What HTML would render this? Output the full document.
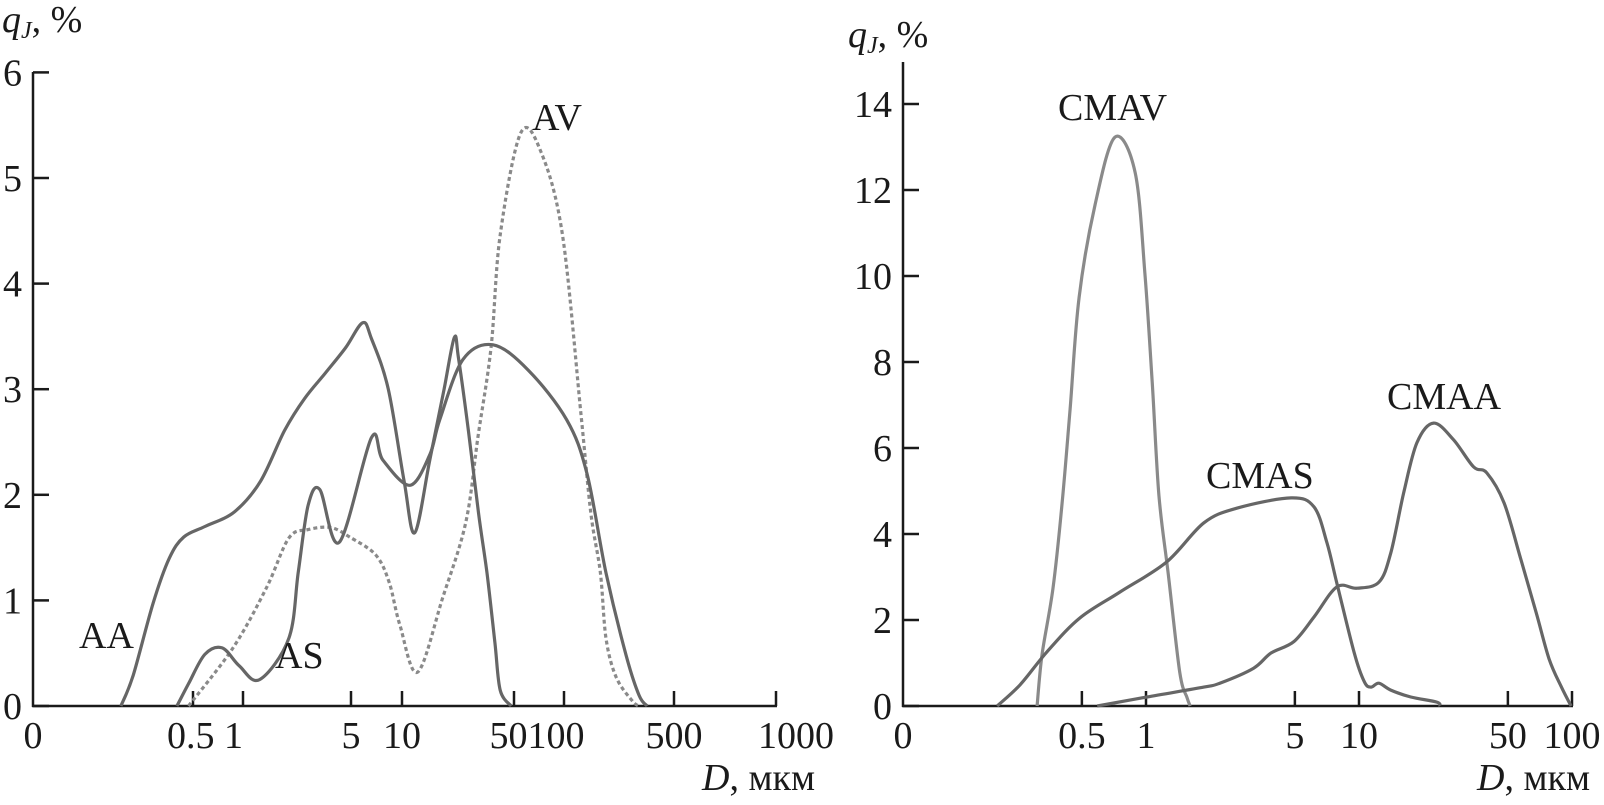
<!DOCTYPE html>
<html><head><meta charset="utf-8"><style>
html,body{margin:0;padding:0;background:#fff;}
svg{display:block;font-family:"Liberation Serif",serif;}
</style></head><body>
<svg id="fig" width="1604" height="805" viewBox="0 0 1604 805" xmlns="http://www.w3.org/2000/svg"></svg>
<script>
// ---------- LEFT CHART DATA ----------
const leftTicks = [0.5, 1, 5, 10, 50, 100, 500, 1000];
const leftTickLabels = ["0.5 1", "", "5", "10", "50100", "", "500", "1000"];
const leftYTicks = [0, 1, 2, 3, 4, 5, 6];
const aaD = [0.184,0.218,0.287,0.36,0.44,0.59,0.89,1.3,1.86,2.5,3.4,4.6,5.86,6.6,8.3,10.3,12.0,14.9,18.3,21.2,22.5,26,30,33.9,38,41,48];
const aaQ = [0,0.29,0.97,1.40,1.6,1.7,1.84,2.13,2.61,2.91,3.15,3.39,3.63,3.48,3.0,2.13,1.64,2.33,3.0,3.49,3.3,2.6,1.83,1.26,0.6,0.15,0];
const asD = [0.40,0.47,0.59,0.75,0.95,1.28,1.98,2.28,2.64,3.14,4.2,6.6,7.7,11.2,14.9,17.2,24,37,61,104,140,185,248,300,338];
const asQ = [0,0.21,0.49,0.55,0.38,0.25,0.64,1.27,1.9,2.05,1.55,2.54,2.33,2.09,2.38,2.71,3.28,3.42,3.18,2.71,2.2,1.26,0.48,0.1,0];
const avD = [0.47,0.87,1.42,1.98,2.64,3.7,4.9,7.0,8.4,9.7,12.5,17.9,25,29.8,36,41,55,73,98,128,148,170,185,215,275,305];
const avQ = [0,0.55,1.12,1.59,1.67,1.69,1.6,1.43,1.17,0.77,0.32,1.02,1.74,2.55,3.4,4.46,5.43,5.24,4.46,2.77,1.83,1.27,0.64,0.27,0.04,0];
// ---------- RIGHT CHART DATA ----------
const rightTicks = [0.5, 1, 5, 10, 50, 100];
const rightTickLabels = ["0.5", "1", "5", "10", "50", "100"];
const rightYTicks = [0, 2, 4, 6, 8, 10, 12, 14];
const cmavD = [0.308,0.325,0.366,0.403,0.44,0.485,0.576,0.715,0.89,0.99,1.07,1.15,1.27,1.44,1.56,1.61];
const cmavQ = [0,1.19,2.74,4.67,6.9,9.5,11.65,13.23,12.4,10.0,7.5,4.9,3.1,0.79,0.19,0];
const cmasD = [0.2,0.256,0.343,0.49,0.755,1.25,1.87,2.67,4.8,6.15,7.07,7.87,9.5,10.6,11.4,12.4,14.1,17.5,23.2,24];
const cmasQ = [0,0.49,1.26,2.05,2.65,3.35,4.26,4.6,4.84,4.63,3.8,2.86,1.23,0.56,0.44,0.53,0.37,0.21,0.09,0];
const cmaaD = [0.59,1.01,1.87,2.22,3.2,3.86,4.95,6.15,7.87,9.8,12.4,14.1,16.2,18.7,22.4,27.8,34.5,39.8,48,57.6,68,78,89,99];
const cmaaQ = [0,0.21,0.44,0.53,0.88,1.23,1.5,2.07,2.77,2.74,2.88,3.56,4.95,6.12,6.58,6.19,5.56,5.42,4.72,3.4,2.16,1.1,0.45,0];

const NS = "http://www.w3.org/2000/svg";
const svg = document.getElementById('fig');
function el(tag, attrs, parent){ const e=document.createElementNS(NS,tag); for(const k in attrs) e.setAttribute(k,attrs[k]); (parent||svg).appendChild(e); return e; }

// axis functions
function xLeft(d){
  const cal=[[0.5,193],[1,243],[5,351],[10,402],[50,514],[100,564],[500,674],[1000,776]];
  if(d<=0.5) return 193+166*Math.log10(d/0.5);
  for(let i=0;i<cal.length-1;i++){
    const a=cal[i],b=cal[i+1];
    if(d<=b[0]) return a[1]+(b[1]-a[1])*Math.log10(d/a[0])/Math.log10(b[0]/a[0]);
  }
  return 776;
}
function yLeft(q){ return 706-105.6*q; }
function xRight(d){ return 1146+213*Math.log10(d); }
function yRight(q){ return 706-43*q; }

function smoothPath(pts){
  let s=`M${pts[0][0].toFixed(1)},${pts[0][1].toFixed(1)}`;
  for(let i=0;i<pts.length-1;i++){
    const p0=pts[i-1]||pts[i],p1=pts[i],p2=pts[i+1],p3=pts[i+2]||p2;
    const c1=[p1[0]+(p2[0]-p0[0])/6,p1[1]+(p2[1]-p0[1])/6];
    const c2=[p2[0]-(p3[0]-p1[0])/6,p2[1]-(p3[1]-p1[1])/6];
    s+=`C${c1[0].toFixed(1)},${c1[1].toFixed(1)} ${c2[0].toFixed(1)},${c2[1].toFixed(1)} ${p2[0].toFixed(1)},${p2[1].toFixed(1)}`;
  }
  return s;
}
function series(D,Q,fx,fy,name,stroke,dash){
  const pts=D.map((d,i)=>[fx(d),fy(Q[i])]);
  const p=el('path',{d:smoothPath(pts),fill:'none',stroke:stroke,'stroke-width':3.2,'stroke-linejoin':'round'});
  if(dash) p.setAttribute('stroke-dasharray',dash);
  
  
}
function text(x,y,str,name,anchor,size,italic){
  const t=el('text',{x:x,y:y,'font-size':size||38,'text-anchor':anchor||'start',fill:'#1a1a1a'});
  if(italic) t.setAttribute('font-style','italic');
  t.textContent=str;
  
  
  return t;
}
function yTitle(x,y,name){
  const t=el('text',{x:x,y:y,'font-size':38,fill:'#1a1a1a','font-style':'italic'});
  
  
  const a=el('tspan',{},t); a.textContent='q';
  const b=el('tspan',{'font-size':24,dy:6},t); b.textContent='J';
  const c=el('tspan',{dy:-6,'font-style':'normal'},t); c.textContent=', %';
}
function xTitle(x,y,name){
  const t=el('text',{x:x,y:y,'font-size':38,fill:'#1a1a1a'});
  
  
  const a=el('tspan',{'font-style':'italic'},t); a.textContent='D';
  const b=el('tspan',{},t); b.textContent=', мкм';
}

// ---------- LEFT AXES ----------
el('line',{x1:33,y1:72,x2:33,y2:707,stroke:'#1a1a1a','stroke-width':2.5});
el('line',{x1:32,y1:706,x2:777,y2:706,stroke:'#1a1a1a','stroke-width':2.5});
leftYTicks.forEach(v=>{
  const y=yLeft(v);
  const tk=el('line',{x1:33,y1:y,x2:49,y2:y,stroke:'#1a1a1a','stroke-width':2.5});
  
  
  text(22,y+13,String(v),'left-y-tick-label','end');
});
leftTicks.forEach((v,i)=>{
  const x=xLeft(v);
  const tk=el('line',{x1:x,y1:706,x2:x,y2:691,stroke:'#1a1a1a','stroke-width':2.5});
  
  
});
text(33,748,'0','left-x-tick-label','middle');
text(167,748,'0.5 1','left-x-tick-label','start');
text(351,748,'5','left-x-tick-label','middle');
text(402,748,'10','left-x-tick-label','middle');
text(537,748,'50100','left-x-tick-label','middle');
text(674,748,'500','left-x-tick-label','middle');
text(758,748,'1000','left-x-tick-label','start');
yTitle(2,32,'left-y-axis-title');
xTitle(702,790,'left-x-axis-title');

series(avD,avQ,xLeft,yLeft,'series-av','#8a8a8a','4 3');
series(aaD,aaQ,xLeft,yLeft,'series-aa','#666');
series(asD,asQ,xLeft,yLeft,'series-as','#666');
text(79,648,'AA','label-aa');
text(275,668,'AS','label-as');
text(532,130,'AV','label-av');

// ---------- RIGHT AXES ----------
el('line',{x1:903,y1:62,x2:903,y2:707,stroke:'#1a1a1a','stroke-width':2.5});
el('line',{x1:902,y1:706,x2:1573,y2:706,stroke:'#1a1a1a','stroke-width':2.5});
rightYTicks.forEach(v=>{
  const y=yRight(v);
  const tk=el('line',{x1:903,y1:y,x2:919,y2:y,stroke:'#1a1a1a','stroke-width':2.5});
  
  
  text(892,y+13,String(v),'right-y-tick-label','end');
});
rightTicks.forEach((v,i)=>{
  const x=xRight(v);
  const tk=el('line',{x1:x,y1:706,x2:x,y2:691,stroke:'#1a1a1a','stroke-width':2.5});
  
  
  text(x,748,rightTickLabels[i],'right-x-tick-label','middle');
});
text(903,748,'0','right-x-tick-label','middle');
yTitle(848,47,'right-y-axis-title');
xTitle(1477,790,'right-x-axis-title');

series(cmavD,cmavQ,xRight,yRight,'series-cmav','#8a8a8a');
series(cmasD,cmasQ,xRight,yRight,'series-cmas','#666');
series(cmaaD,cmaaQ,xRight,yRight,'series-cmaa','#666');
text(1058,120,'CMAV','label-cmav');
text(1206,488,'CMAS','label-cmas');
text(1387,409,'CMAA','label-cmaa');
</script>
</body></html>
